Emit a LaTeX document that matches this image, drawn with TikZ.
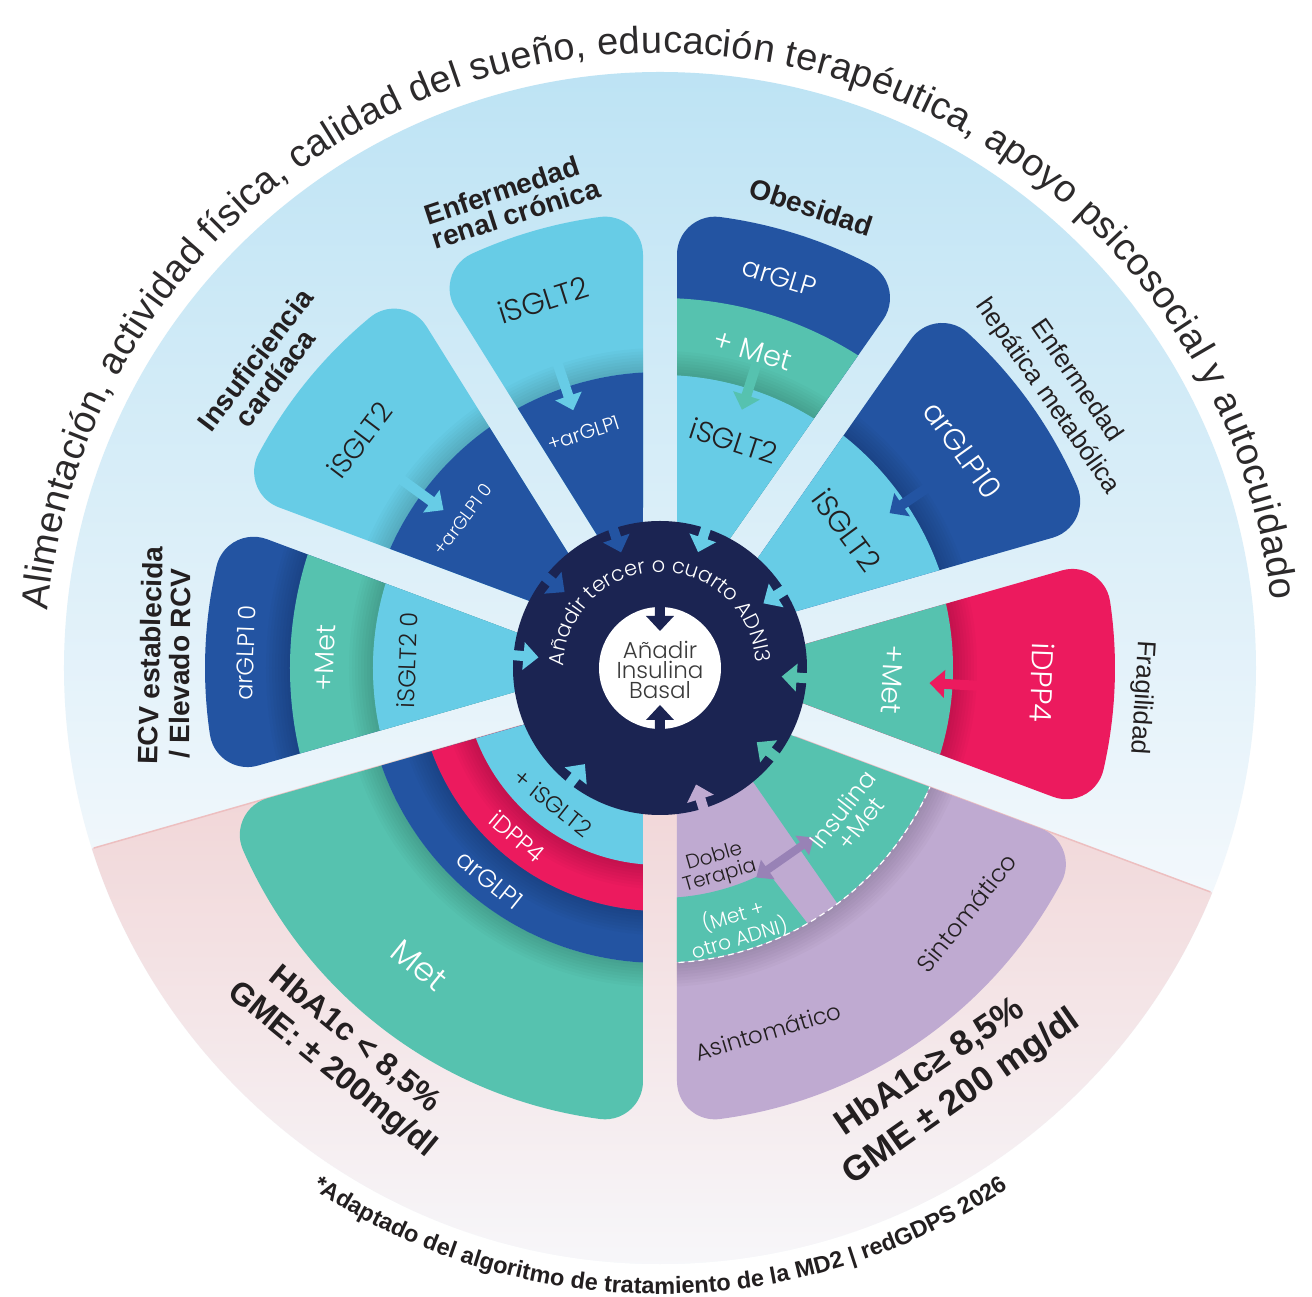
\documentclass[tikz,border=0pt]{standalone}
\usepackage{fontspec}
\usetikzlibrary{calc,decorations.text}
\setmainfont{Liberation Sans}
\newfontfamily\labf{Liberation Sans}
\IfFontExistsTF{Poppins Light}{\newfontfamily\innf{Poppins Light}}{\newfontfamily\innf{Poppins}}
\definecolor{navy}{HTML}{1B2452}
\definecolor{dblue}{HTML}{2354A2}
\definecolor{lblue}{HTML}{67CCE6}
\definecolor{mgreen}{HTML}{56C2AF}
\definecolor{mpink}{HTML}{EC1A5E}
\definecolor{lilac}{HTML}{BFAAD1}
\definecolor{dlilac}{HTML}{9882B6}
\definecolor{txt}{HTML}{231F20}
\definecolor{otxt}{HTML}{2C2A2B}
\definecolor{ctxt}{HTML}{3A3A3A}
\definecolor{bgA}{HTML}{BDE3F4}
\definecolor{bgB}{HTML}{D3ECF8}
\definecolor{bgC}{HTML}{F3F8FC}
\definecolor{pkA}{HTML}{F0CFD0}
\definecolor{pkB}{HTML}{F7F7FA}
\definecolor{pkL}{HTML}{EDBFC0}
% sector outline: gap half width 17, outer radius 455, corner radius 38
\newcommand\secpath[2]{({(#1+#2)/2}:{17/sin((#2-#1)/2)}) -- ({#1+2.355}:413.71) arc[start angle={#1-90}, end angle={#1+7.58}, radius=38] arc[start angle={#1+7.58}, end angle={#2-7.58}, radius=455] arc[start angle={#2-7.58}, end angle={#2+90}, radius=38] -- cycle}
\newcommand\radarrow[4]{\begin{scope}[rotate=#1]\fill[#4] (#2,0) -- ({#2+15},14) -- ({#2+15},5) -- (#3,5) -- (#3,-5) -- ({#2+15},-5) -- ({#2+15},-14) -- cycle;\end{scope}}
\newcommand\shadowring[1]{\foreach \k in {1,...,8}{\draw[black, opacity=0.019, line width={3*\k}] (0,0) circle[radius={#1+1.5*\k}];}}
\tikzset{
 lab/.style={font=\labf\bfseries\fontsize{28}{28}\selectfont, text=txt, inner sep=0pt},
 labr/.style={font=\labf\fontsize{26}{26}\selectfont, text=txt, inner sep=0pt},
 labb/.style={font=\labf\bfseries\fontsize{32}{32}\selectfont, text=txt, inner sep=0pt},
 labc/.style={font=\labf\bfseries\fontsize{35}{35}\selectfont, text=txt, inner sep=0pt},
 inw/.style={font=\innf\fontsize{#1}{#1}\selectfont, text=white, inner sep=0pt, align=center},
 ind/.style={font=\innf\fontsize{#1}{#1}\selectfont, text=txt, inner sep=0pt, align=center},
}
\begin{document}
\begin{tikzpicture}[x=1pt,y=1pt]
\useasboundingbox (-660,-629) rectangle (652,668);
\fill[white] (-660,-629) rectangle (652,668);
% background disc
\begin{scope}
\clip (0,0) circle[radius=596];
\shade[top color=bgA, middle color=bgB, bottom color=bgC] (-600,600) rectangle (600,-230);
\fill[bgC] (-600,-229) rectangle (600,-600);
\clip ($(286:17)+(196:700)$) -- (286:17) -- (249.5:17) -- ($(249.5:17)+(339.5:700)$) -- (700,-700) -- (-700,-700) -- cycle;
\shade[top color=pkA, bottom color=pkB] (-600,-20) rectangle (600,-600);
\end{scope}
\draw[pkL, line width=1.5] ($(286:17)+(196:150)$) -- ($(286:17)+(196:594)$);
\draw[pkL, line width=1.5] ($(249.5:17)+(339.5:150)$) -- ($(249.5:17)+(339.5:594)$);
% ECV
\begin{scope}\clip \secpath{159.5}{196};
\fill[dblue] (0,0) circle[radius=460];
\shadowring{370}
\fill[mgreen] (0,0) circle[radius=370];
\shadowring{287}
\fill[lblue] (0,0) circle[radius=287];
\end{scope}
% IC
\begin{scope}\clip \secpath{122}{159.5};
\fill[lblue] (0,0) circle[radius=460];
\shadowring{295}
\fill[dblue] (0,0) circle[radius=295];
\end{scope}
% ERC
\begin{scope}\clip \secpath{90}{122};
\fill[lblue] (0,0) circle[radius=460];
\shadowring{296}
\fill[dblue] (0,0) circle[radius=296];
\end{scope}
% Obesidad
\begin{scope}\clip \secpath{55}{90};
\fill[dblue] (0,0) circle[radius=460];
\fill[mgreen] (0,0) circle[radius=370];
\shadowring{293}
\fill[lblue] (0,0) circle[radius=293];
\end{scope}
% EHM
\begin{scope}\clip \secpath{16}{55};
\fill[dblue] (0,0) circle[radius=460];
\shadowring{296}
\fill[lblue] (0,0) circle[radius=296];
\end{scope}
% Fragilidad
\begin{scope}\clip \secpath{-20.5}{16};
\fill[mpink] (0,0) circle[radius=460];
\shadowring{293}
\fill[mgreen] (0,0) circle[radius=293];
\end{scope}
% lower left
\begin{scope}\clip \secpath{196}{270};
\fill[mgreen] (0,0) circle[radius=460];
\shadowring{295}
\fill[dblue] (0,0) circle[radius=295];
\shadowring{243}
\fill[mpink] (0,0) circle[radius=243];
\shadowring{197}
\fill[lblue] (0,0) circle[radius=197];
\end{scope}
% lower right
\begin{scope}\clip \secpath{-90}{-20.5};
\fill[lilac] (0,0) circle[radius=460];
\shadowring{295}
\fill[mgreen] (-50.5:140) -- (-53:294.5) arc[start angle=-53, end angle=-10, radius=294.5] -- (-10:140) -- cycle;
\fill[mgreen] (-62.2:230) -- (-60:294.5) arc[start angle=-60, end angle=-100, radius=294.5] -- (-100:230) arc[start angle=-100, end angle=-62.2, radius=230] -- cycle;
\draw[white, line width=1.2pt, dash pattern=on 6pt off 4pt] (-100:295) arc[start angle=-100, end angle=-10, radius=295];
\end{scope}
% arrows inside sectors
\radarrow{108.6}{272}{325}{lblue}
\radarrow{143.9}{268}{325}{lblue}
\radarrow{72.4}{271}{330}{mgreen}
\radarrow{34}{277}{335}{dblue}
\radarrow{-3.2}{270}{330}{mpink}
\begin{scope}[shift={(125,-189.5)}, rotate=34.9]
\fill[dlilac] (-35,0) -- (-21,12) -- (-21,4) -- (21,4) -- (21,12) -- (35,0) -- (21,-12) -- (21,-4) -- (-21,-4) -- (-21,-12) -- cycle;
\end{scope}
% centre
\fill[navy] (0,0) circle[radius=147];
\radarrow{108.6}{122}{165}{dblue}
\radarrow{71.8}{122}{165}{lblue}
\radarrow{32}{122}{165}{lblue}
\radarrow{-4}{122}{165}{mgreen}
\radarrow{-37.5}{122}{165}{mgreen}
\radarrow{-72.8}{122}{165}{lilac}
\radarrow{-128}{122}{165}{lblue}
\radarrow{175}{122}{165}{lblue}
\radarrow{141.5}{122}{165}{dblue}
\fill[white] (0,0) circle[radius=61];
\radarrow{90}{37}{70}{navy}
\radarrow{-90}{37}{70}{navy}
\node[font=\innf\fontsize{23}{20}\selectfont, text=ctxt, align=center, inner sep=0pt] (basal) at (0,-2) {Añadir\\Insulina\\Basal};
\path[decorate, decoration={text along path, text align=center, text color=white, text={|\innf\fontsize{21}{21}\selectfont|Añadir tercer o cuarto ADNI3}}] (180:96) arc[start angle=180, end angle=2, radius=96];
% outer labels
\node[lab, rotate=18.3] (erc1) at (108.3:503) {Enfermedad};
\node[lab, rotate=17.6] (erc2) at (107.6:477) {renal crónica};
\node[lab, rotate=-18.2] (obe) at (71.8:485) {Obesidad};
\node[lab, rotate=52.7] (ic1) at (142.7:509) {Insuficiencia};
\node[lab, rotate=53] (ic2) at (143:482) {cardíaca};
\node[lab, rotate=88.6] (ecv1) at (178.6:510) {ECV establecida};
\node[lab, rotate=89.5] (ecv2) at (179.5:480) {/ Elevado RCV};
\node[labr, rotate=-55.4] (ehm1) at (34.6:508) {Enfermedad};
\node[labr, rotate=-55] (ehm2) at (35:473) {hepática metabólica};
\node[labr, rotate=-93.5] (frag) at (-3.5:483) {Fragilidad};
\node[labb, rotate=-39.4] (ll1) at (230.6:481) {HbA1c < 8,5\%};
\node[labb, rotate=-39.2] (ll2) at (230.8:519) {GME: ± 200mg/dl};
\node[labc, rotate=34.1] (lr1) at (-55.9:482) {HbA1c≥ 8,5\%};
\node[labc, rotate=35.1] (lr2) at (-54.9:525) {GME ± 200 mg/dl};
% inner texts
\node[ind=30, rotate=17.6] (t1) at (107.6:386) {iSGLT2};
\node[inw=20, rotate=18] (t2) at (108:247) {+arGLP1};
\node[ind=28, rotate=52.8] (t3) at (142.8:377) {iSGLT2};
\node[inw=18, rotate=53] (t4) at (143:247) {+arGLP1 0};
\node[inw=27, rotate=-17] (t5) at (73:409) {arGLP};
\node[inw=29, rotate=-16.3] (t6) at (73.7:331) {+ Met};
\node[ind=29, rotate=-18] (t7) at (72:239) {iSGLT2};
\node[inw=30, rotate=-54.3] (t8) at (35.7:373) {arGLP10};
\node[ind=30, rotate=-53.6] (t9) at (36.4:232) {iSGLT2};
\node[inw=30, rotate=-92.2] (t10) at (-2.2:383) {iDPP4};
\node[inw=28, rotate=-92.9] (t11) at (-2.9:233) {+Met};
\node[inw=24, rotate=87.9] (t12) at (177.9:415) {arGLP1 0};
\node[inw=27, rotate=88.3] (t13) at (178.3:335) {+Met};
\node[ind=24, rotate=88.2] (t14) at (178.2:253) {iSGLT2 0};
\node[ind=23, rotate=-38.4] (t15) at (231.6:172) {+ iSGLT2};
\node[inw=24, rotate=-40.2] (t16) at (229.8:221) {iDPP4};
\node[inw=25, rotate=-38.7] (t17) at (231.3:272) {arGLP1};
\node[inw=33, rotate=-39] (t18) at (231:383) {Met};
\node[ind=20, rotate=16, font=\innf\fontsize{20}{20}\selectfont] (t19) at (-74:207) {Doble\\Terapia};
\node[inw=24, rotate=52, font=\innf\fontsize{24}{23}\selectfont] (t20) at (-37.8:242) {Insulina\\+Met};
\node[inw=20, rotate=16.4, font=\innf\fontsize{20}{19}\selectfont] (t21) at (-73.6:270) {(Met +\\otro ADNI)};
\node[ind=24, rotate=51.4] (t22) at (-38.6:392) {Sintomático};
\node[ind=23, rotate=16.6] (t23) at (-73.4:379) {Asintomático};
% curved texts
\path[decorate, decoration={text along path, text align=fit to path, text color=otxt, text={|\labf\fontsize{38}{38}\selectfont|Alimentación, actividad física, calidad del sueño, educación terapéutica, apoyo psicosocial y autocuidado}}] (174.6:615) arc[start angle=174.6, end angle=6.4, radius=615];
\path[decorate, decoration={text along path, text align=center, text color=txt, text format delimiters={<}{>}, text={<\labf\bfseries\fontsize{23.5}{23.5}\selectfont>*Adaptado del algoritmo de tratamiento de la MD2 | redGDPS 2026}}] (234:626) arc[start angle=234, end angle=306, radius=626];
\end{tikzpicture}
\end{document}
